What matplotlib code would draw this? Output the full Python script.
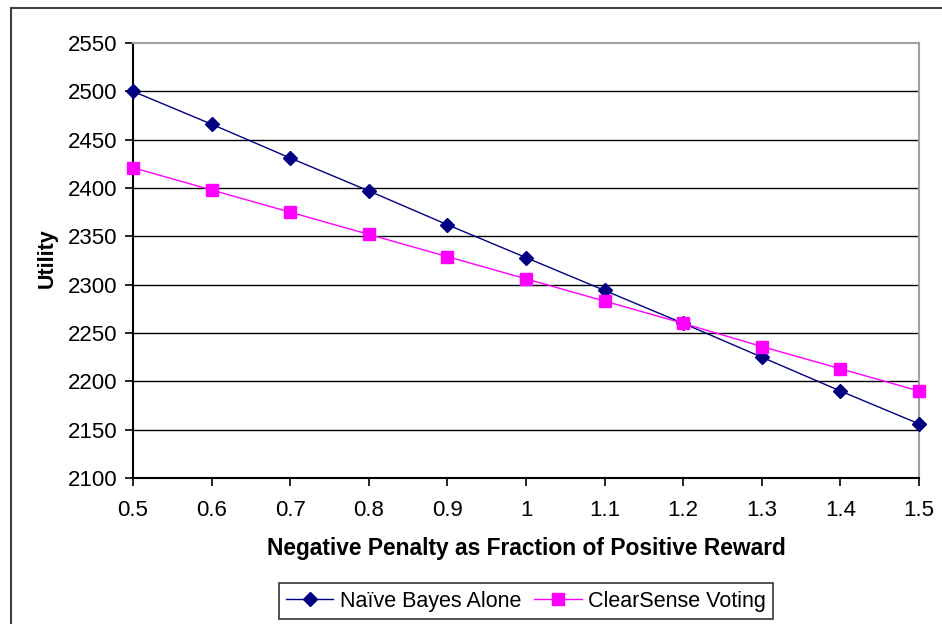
import matplotlib
matplotlib.use("Agg")
import matplotlib.pyplot as plt
from matplotlib.patches import Rectangle

# values
penalty = [0.5, 0.6, 0.7, 0.8, 0.9, 1.0, 1.1, 1.2, 1.3, 1.4, 1.5]
naive_bayes = [2500, 2466, 2431, 2397, 2362, 2328, 2294, 2260, 2225, 2190, 2156]
clearsense = [2421, 2398, 2375, 2352, 2329, 2306, 2283, 2260, 2236, 2213, 2190]
x_ticks = [0.5, 0.6, 0.7, 0.8, 0.9, 1, 1.1, 1.2, 1.3, 1.4, 1.5]
x_ticklabels = ["0.5", "0.6", "0.7", "0.8", "0.9", "1", "1.1", "1.2", "1.3", "1.4", "1.5"]
y_ticks = [2100, 2150, 2200, 2250, 2300, 2350, 2400, 2450, 2500, 2550]

plt.rcParams['font.family'] = ['Liberation Sans', 'DejaVu Sans']

fig = plt.figure(figsize=(9.42, 6.24), dpi=100)
ax = fig.add_axes([133/942, 1 - 478/624, (919 - 133)/942, (478 - 43)/624])

# outer chart frame (runs off the right and bottom edges)
fig.patches.append(Rectangle((11/942, -0.2), 1.2, 1.2 - 8/624,
                             transform=fig.transFigure, fill=False,
                             edgecolor="#404040", linewidth=1.5))

for yv in y_ticks[1:-1]:
    ax.axhline(yv, color="black", linewidth=1.0, zorder=1)

ax.plot(penalty, naive_bayes, color="#000080", marker="D", markersize=7,
        linewidth=1.0, label="Naïve Bayes Alone", zorder=3, clip_on=False)
ax.plot(penalty, clearsense, color="#FF00FF", marker="s", markersize=8,
        linewidth=1.0, label="ClearSense Voting", zorder=3, clip_on=False)

ax.set_xlim(0.5, 1.5)
ax.set_ylim(2100, 2550)
ax.set_xticks(x_ticks)
ax.set_xticklabels(x_ticklabels)
ax.set_yticks(y_ticks)
ax.tick_params(axis="both", direction="out", length=6, width=1.2,
               labelsize=16, colors="black")
ax.tick_params(axis="x", pad=10)
ax.tick_params(axis="y", pad=5)

for side in ("left", "bottom"):
    ax.spines[side].set_color("black")
    ax.spines[side].set_linewidth(1.5)
for side in ("top", "right"):
    ax.spines[side].set_color("#A0A0A0")
    ax.spines[side].set_linewidth(1.5)

ax.set_xlabel("Negative Penalty as Fraction of Positive Reward",
              fontsize=16.4, fontweight="bold", labelpad=11)
ax.set_ylabel("Utility", fontsize=15.5, fontweight="bold")
ax.yaxis.set_label_coords(-0.096, 0.506)

leg = fig.legend(loc="center", bbox_to_anchor=(526/942, 1 - 601/624), ncol=2,
                 fontsize=15.5, frameon=True, fancybox=False, handlelength=2.2,
                 handletextpad=0.3, columnspacing=0.6, borderpad=0.35)
leg.get_frame().set_edgecolor("black")
leg.get_frame().set_linewidth(1.2)

fig.savefig("out.png", dpi=100)
